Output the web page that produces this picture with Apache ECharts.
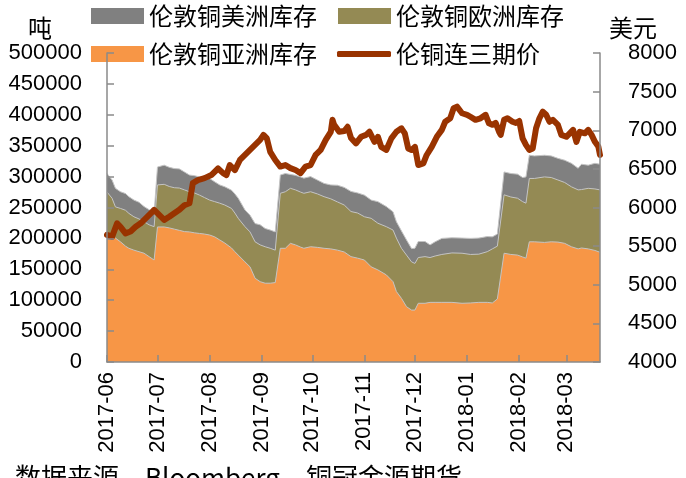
<!DOCTYPE html>
<html>
<head>
<meta charset="utf-8">
<script src="https://cdn.jsdelivr.net/npm/echarts@6/dist/echarts.min.js"></script>
<style>
  html, body { margin: 0; padding: 0; background: #ffffff; }
  #chart { width: 686px; height: 478px; }
</style>
</head>
<body>
<div id="chart"></div>
<script>
// LME copper warehouse stocks by region (tonnes), shared sampling dates
const stockDates = [
  '2017-06-01','2017-06-04','2017-06-06','2017-06-09','2017-06-12','2017-06-14','2017-06-17','2017-06-20','2017-06-23','2017-06-26','2017-06-29',
  '2017-07-01','2017-07-05','2017-07-08','2017-07-11','2017-07-14','2017-07-17','2017-07-20','2017-07-23','2017-07-26','2017-07-29',
  '2017-08-01','2017-08-04','2017-08-07','2017-08-10','2017-08-14','2017-08-16','2017-08-18','2017-08-22','2017-08-25','2017-08-28','2017-08-31',
  '2017-09-03','2017-09-06','2017-09-09','2017-09-10','2017-09-12','2017-09-15','2017-09-18','2017-09-21','2017-09-24','2017-09-26','2017-09-30',
  '2017-10-04','2017-10-08','2017-10-12','2017-10-16','2017-10-20','2017-10-24','2017-10-28',
  '2017-11-01','2017-11-05','2017-11-09','2017-11-14','2017-11-18','2017-11-20','2017-11-23','2017-11-26','2017-11-29',
  '2017-12-01','2017-12-03','2017-12-07','2017-12-10','2017-12-13','2017-12-17','2017-12-23','2017-12-29',
  '2018-01-03','2018-01-08','2018-01-13','2018-01-16','2018-01-19','2018-01-23','2018-01-27','2018-01-31',
  '2018-02-03','2018-02-05','2018-02-07','2018-02-10','2018-02-16','2018-02-20','2018-02-24','2018-02-28',
  '2018-03-04','2018-03-08','2018-03-10','2018-03-14','2018-03-18','2018-03-21'
];
const asiaStock = [
  210000,205500,200500,194500,187500,184000,181000,178500,176000,170500,165000,
  218500,218500,217000,215000,213000,211000,210500,209000,208000,207000,
  205500,202500,197500,192500,184500,178500,173000,162000,154000,135500,130000,
  127500,127500,128500,129500,184000,184000,192000,189500,186000,184000,186500,
  185500,184000,183000,181000,178000,170500,168000,
  165000,154000,149000,141000,130000,114000,103000,89500,84000,
  84000,95000,95000,96500,96500,96500,96500,95000,
  95500,96500,96500,95500,102000,176000,174000,173000,
  170000,168000,194500,194500,193500,194500,194000,192000,
  186500,183000,184500,183000,180500,177500
];
const europeStock = [
  65000,59500,50500,54000,58000,56500,54000,53000,51000,51500,54000,
  68000,69000,67000,67000,68500,67500,65000,64500,62000,59000,
  56500,57000,59500,61500,64000,62500,59500,57000,56500,59000,59500,
  59000,56500,52500,50000,89000,91500,89000,89000,89000,89000,89000,
  86500,83500,81000,78000,76000,73000,73000,
  70000,78500,75500,78000,83500,86500,81000,83500,78000,
  75500,74000,75500,72500,75000,77500,80000,81000,
  78500,78000,82000,87500,85500,94500,93000,92000,
  89500,89000,102500,102500,106000,104000,100500,98500,
  97000,95500,94500,98000,99500,101000
];
const americaStock = [
  30000,29500,30000,27000,27000,27000,27000,27000,24500,24500,22000,
  29000,31000,31000,31000,31000,29000,27000,28000,29500,32500,
  35000,32000,29500,29500,29500,31000,32500,27000,27000,29500,32500,
  29500,29500,29500,30500,29500,29500,22500,23500,24500,24500,24500,
  22500,21500,22500,27000,28500,32500,32500,
  35000,29500,35000,32500,29500,26500,28000,24500,21500,
  24500,26000,24500,20500,23000,26000,24500,24500,
  26000,26000,24500,19500,19500,37000,38000,39000,
  39000,42500,37500,36500,35000,35000,35000,36000,
  38000,35000,41000,37500,41500,41500
];

// LME 3-month copper price (USD/t)
const priceDates = [
  '2017-06-01','2017-06-04','2017-06-07','2017-06-09','2017-06-12','2017-06-15','2017-06-18','2017-06-21','2017-06-24','2017-06-27','2017-06-29',
  '2017-07-02','2017-07-05','2017-07-08','2017-07-11','2017-07-14','2017-07-17','2017-07-20','2017-07-22','2017-07-25','2017-07-29',
  '2017-08-02','2017-08-06','2017-08-09','2017-08-11','2017-08-13','2017-08-16','2017-08-19','2017-08-22','2017-08-25','2017-08-28','2017-08-31',
  '2017-09-02','2017-09-04','2017-09-06','2017-09-09','2017-09-12','2017-09-15','2017-09-18','2017-09-21','2017-09-24','2017-09-27','2017-09-30',
  '2017-10-03','2017-10-06','2017-10-09','2017-10-12','2017-10-13','2017-10-14','2017-10-17','2017-10-20','2017-10-22','2017-10-24','2017-10-27','2017-10-30',
  '2017-11-02','2017-11-04','2017-11-07','2017-11-09','2017-11-11','2017-11-14','2017-11-17','2017-11-20','2017-11-23','2017-11-25','2017-11-27','2017-11-29',
  '2017-12-01','2017-12-03','2017-12-06','2017-12-08','2017-12-11','2017-12-14','2017-12-17','2017-12-19','2017-12-22','2017-12-24','2017-12-26','2017-12-29',
  '2018-01-01','2018-01-03','2018-01-06','2018-01-09','2018-01-12','2018-01-14','2018-01-16','2018-01-18','2018-01-20','2018-01-21','2018-01-23','2018-01-25','2018-01-28','2018-01-30',
  '2018-02-01','2018-02-03','2018-02-05','2018-02-07','2018-02-09','2018-02-11','2018-02-13','2018-02-15','2018-02-17','2018-02-19','2018-02-21','2018-02-24','2018-02-26',
  '2018-03-01','2018-03-03','2018-03-05','2018-03-07','2018-03-09','2018-03-12','2018-03-14','2018-03-16','2018-03-18','2018-03-20','2018-03-21'
];
const priceValues = [
  5645,5620,5795,5750,5665,5690,5750,5795,5860,5925,5970,
  5905,5840,5880,5925,5970,6030,6055,6315,6355,6380,
  6420,6505,6445,6420,6550,6485,6615,6680,6745,6810,6875,
  6940,6895,6720,6615,6530,6550,6510,6485,6445,6530,6550,
  6680,6745,6875,6980,7135,7070,6980,6990,7045,6900,6830,6915,
  6940,6980,6850,6915,6785,6745,6895,6980,7025,6960,6765,6745,
  6785,6550,6570,6680,6785,6915,7005,7110,7155,7285,7305,7220,
  7200,7175,7135,7155,7200,7090,7070,7095,6980,6940,7135,7155,7110,7095,
  7120,6895,6810,6745,6765,7025,7155,7240,7200,7110,7135,7070,6940,
  6915,6960,7005,6850,6980,6960,7005,6940,6850,6790,6680
];

// Month boundaries used for ticks and labels on the date axis
const monthTicks = [
  '2017-06-01','2017-07-01','2017-08-01','2017-09-01','2017-10-01',
  '2017-11-01','2017-12-01','2018-01-01','2018-02-01','2018-03-01'
];
const dateStart = '2017-06-01';
const dateEnd = '2018-03-21';

const NAME_AMERICA = '伦敦铜美洲库存';
const NAME_EUROPE = '伦敦铜欧洲库存';
const NAME_ASIA = '伦敦铜亚洲库存';
const NAME_PRICE = '伦铜连三期价';

const COLOR_AMERICA = '#808080';
const COLOR_EUROPE = '#948A54';
const COLOR_ASIA = '#F79646';
const COLOR_PRICE = '#993300';
const EDGE_COLOR = '#c4c4c4';

const AXIS_COLOR = '#8a8a8a';
const NUM_FONT = '"Liberation Sans", Arial, sans-serif';
const CJK_FONT = '"Noto Sans CJK SC", sans-serif';

// dates are placed on a linear axis of millisecond timestamps
const toTime = s => echarts.time.parse(s).getTime();
const pairs = (dates, values) => dates.map((d, i) => [toTime(d), values[i]]);
const tickTimes = monthTicks.map(toTime);

// regional layers piled up: Asia at the bottom, then Europe, then America
const layerAsia = asiaStock.slice();
const layerEurope = asiaStock.map((v, i) => v + europeStock[i]);
const layerAmerica = layerEurope.map((v, i) => v + americaStock[i]);

function stockLayer(name, values, color, z) {
  return {
    name: name,
    type: 'line',
    yAxisIndex: 0,
    symbol: 'none',
    smooth: false,
    z: z,
    lineStyle: { width: 1, color: EDGE_COLOR },
    itemStyle: { color: color },
    areaStyle: { color: color, opacity: 1, origin: 'start' },
    emphasis: { disabled: true },
    data: pairs(stockDates, values)
  };
}

const legendText = { fontSize: 24, fontFamily: CJK_FONT, color: '#000' };

const chart = echarts.init(document.getElementById('chart'), null, { renderer: 'canvas' });
chart.setOption({
  backgroundColor: '#ffffff',
  animation: false,
  grid: { left: 107, right: 86, top: 53, bottom: 116, containLabel: false },
  legend: [
    {
      data: [NAME_AMERICA, NAME_EUROPE],
      left: 91, top: 4, padding: 0, itemGap: 21,
      itemWidth: 53, itemHeight: 16, icon: 'rect',
      textStyle: legendText, selectedMode: false
    },
    {
      data: [NAME_ASIA],
      left: 91, top: 42, padding: 0,
      itemWidth: 53, itemHeight: 16, icon: 'rect',
      textStyle: legendText, selectedMode: false
    },
    {
      data: [NAME_PRICE],
      left: 337, top: 42, padding: 0,
      itemWidth: 54, itemHeight: 6, icon: 'roundRect',
      textStyle: legendText, selectedMode: false
    }
  ],
  xAxis: {
    type: 'value',
    min: toTime(dateStart),
    max: toTime(dateEnd),
    z: 10,
    axisLine: { show: true, lineStyle: { color: AXIS_COLOR, width: 1.5 } },
    axisTick: { show: true, inside: true, length: 7, customValues: tickTimes,
      lineStyle: { color: AXIS_COLOR, width: 1.5 } },
    axisLabel: {
      customValues: tickTimes,
      rotate: 90, margin: 10,
      fontSize: 22, fontFamily: NUM_FONT, color: '#000',
      formatter: v => echarts.time.format(v, '{yyyy}-{MM}', false)
    },
    splitLine: { show: false }
  },
  yAxis: [
    {
      type: 'value', min: 0, max: 500000, interval: 50000, z: 10,
      axisLine: { show: true, lineStyle: { color: AXIS_COLOR, width: 1.5 } },
      axisTick: { show: true, inside: true, length: 7, lineStyle: { color: AXIS_COLOR, width: 1.5 } },
      axisLabel: { margin: 25, fontSize: 22, fontFamily: NUM_FONT, color: '#000', formatter: v => String(v) },
      splitLine: { show: false }
    },
    {
      type: 'value', min: 4000, max: 8000, interval: 500, position: 'right', z: 10,
      axisLine: { show: true, lineStyle: { color: AXIS_COLOR, width: 1.5 } },
      axisTick: { show: true, inside: true, length: 7, lineStyle: { color: AXIS_COLOR, width: 1.5 } },
      axisLabel: { margin: 28, fontSize: 22, fontFamily: NUM_FONT, color: '#000', formatter: v => String(v) },
      splitLine: { show: false }
    }
  ],
  series: [
    stockLayer(NAME_AMERICA, layerAmerica, COLOR_AMERICA, 2),
    stockLayer(NAME_EUROPE, layerEurope, COLOR_EUROPE, 3),
    stockLayer(NAME_ASIA, layerAsia, COLOR_ASIA, 4),
    {
      name: NAME_PRICE,
      type: 'line',
      yAxisIndex: 1,
      symbol: 'none',
      z: 6,
      lineStyle: { width: 6, color: COLOR_PRICE, cap: 'round', join: 'round' },
      itemStyle: { color: COLOR_PRICE },
      emphasis: { disabled: true },
      data: pairs(priceDates, priceValues)
    }
  ],
  graphic: [
    { type: 'text', left: 28, top: 16, style: { text: '吨', fontSize: 24, fontFamily: CJK_FONT, fill: '#000' } },
    { type: 'text', left: 609, top: 16, style: { text: '美元', fontSize: 24, fontFamily: CJK_FONT, fill: '#000' } },
    { type: 'text', left: 15, top: 464, style: { text: '数据来源，Bloomberg，铜冠金源期货', fontSize: 26, fontFamily: CJK_FONT, fill: '#000' } }
  ]
});
</script>
</body>
</html>
